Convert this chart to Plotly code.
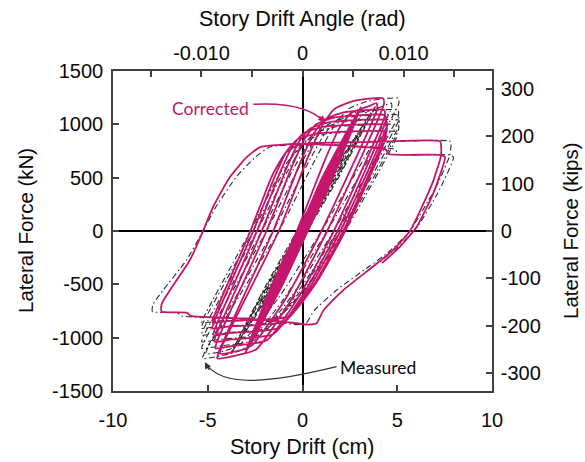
import plotly.graph_objects as go

# ---------------- data (drift in cm, force in kN) ----------------
corrected_elastic = [(0, 0),
    (1.06, 400), (0.05, 0), (-1.06, -400), (-0.05, 0),
    (1.85, 700), (0.08, 0), (-1.85, -700), (-0.08, 0),
    (1.22, 500), (2.51, 950), (1.42, 500), (0.10, 0), (-1.22, -500), (-2.51, -950), (-1.42, -500), (-0.10, 0),
    (1.17, 500), (2.91, 1100), (1.47, 500), (0.15, 0), (-1.17, -500), (-2.91, -1100), (-1.47, -500), (-0.15, 0),
    (1.12, 500), (3.07, 1160), (1.52, 500), (0.20, 0), (-1.12, -500), (-3.03, -1145), (-1.52, -500), (-0.20, 0),
    (1.07, 500), (3.08, 1165), (1.57, 500), (0.25, 0), (-1.07, -500), (-3.04, -1150), (-1.57, -500), (-0.25, 0),
    (1.20, 500), (3.07, 1160), (1.44, 500), (0.12, 0), (-1.20, -500), (-3.04, -1150), (-1.44, -500), (-0.12, 0),
    (1.10, 500), (3.04, 1150), (1.54, 500), (0.22, 0), (-1.10, -500), (-3.02, -1140), (-1.54, -500), (-0.22, 0),
    (1.14, 500), (3.08, 1165), (1.50, 500), (0.18, 0), (-1.14, -500), (-3.04, -1150), (-1.50, -500), (-0.18, 0),
    (1.04, 500), (3.02, 1140), (1.60, 500), (0.28, 0), (-1.04, -500), (-2.99, -1130), (-1.60, -500), (-0.30, 0)]

corrected_cycles = [
    (1.17, 660), (1.93, 960), (2.55, 1104), (3.57, 1176), (3.90, 1200), (3.95, 1150), (1.00, 0),
    (-0.88, -633), (-2.65, -1070), (-3.45, -1127), (-4.35, -1150), (-4.27, -1090), (-1.25, 0),
    (0.27, 685), (1.06, 996), (1.69, 1145), (2.72, 1220), (4.25, 1245), (4.30, 1195), (1.30, 0),
    (-0.64, -657), (-2.45, -1111), (-3.60, -1171), (-4.50, -1195), (-4.42, -1135), (-1.55, 0),
    (-0.16, 624), (0.57, 908), (1.17, 1044), (2.17, 1112), (4.30, 1135), (4.35, 1085), (1.65, 0),
    (-0.16, -605), (-1.88, -1023), (-3.70, -1078), (-4.60, -1100), (-4.52, -1040), (-1.90, 0),
    (-0.57, 598), (0.13, 870), (0.72, 1000), (1.72, 1065), (4.35, 1087), (4.40, 1037), (1.85, 0),
    (0.12, -571), (-1.54, -965), (-3.75, -1017), (-4.65, -1038), (-4.57, -978), (-2.15, 0),
    (-0.88, 572), (-0.20, 832), (0.38, 957), (1.36, 1019), (4.40, 1040), (4.45, 990), (2.00, 0),
    (0.36, -536), (-1.24, -907), (-3.80, -956), (-4.70, -975), (-4.62, -915), (-2.40, 0),
    (-1.19, 547), (-0.53, 795), (0.04, 914), (1.01, 974), (4.40, 994), (4.45, 944), (2.15, 0),
    (0.60, -502), (-0.95, -848), (-3.85, -894), (-4.75, -912), (-4.67, -852), (-2.60, 0),
    (-1.46, 512), (-0.85, 744), (-0.29, 856), (0.67, 911), (4.35, 930), (4.40, 880), (2.25, 0),
    (0.77, -473), (-0.73, -800), (-3.85, -843), (-4.75, -860), (-4.67, -800), (-2.75, 0)]

corrected_large = [
    (-1.60, 520), (-0.90, 730), (-0.30, 800), (0.60, 825), (2.50, 832), (4.40, 840), (7.26, 840),
    (7.32, 780), (7.30, 697), (6.90, 470), (6.55, 322), (5.67, 0), (4.71, -190), (3.74, -330),
    (2.15, -555), (1.10, -745), (0.75, -865), (0.30, -878), (-1.00, -850), (-3.00, -820),
    (-5.90, -795), (-6.10, -765), (-7.43, -756), (-7.45, -700), (-7.39, -666), (-6.99, -553),
    (-5.94, -272), (-5.25, 0), (-4.72, 225), (-3.83, 506), (-2.93, 694), (-2.24, 787),
    (-1.35, 806), (-0.13, 816), (2.00, 800), (4.40, 765), (4.55, 722), (7.35, 712),
    (7.52, 690), (6.90, 353), (6.03, 40), (5.15, -147), (4.20, -300)]

measured_elastic = [(0, 0),
    (1.32, 400), (0.05, 0), (-1.32, -400), (-0.05, 0),
    (2.31, 700), (0.08, 0), (-2.31, -700), (-0.08, 0),
    (1.55, 500), (3.13, 950), (1.75, 500), (0.10, 0), (-1.55, -500), (-3.13, -950), (-1.75, -500), (-0.10, 0),
    (1.50, 500), (3.63, 1100), (1.80, 500), (0.15, 0), (-1.50, -500), (-3.63, -1100), (-1.80, -500), (-0.15, 0),
    (1.45, 500), (3.82, 1160), (1.85, 500), (0.20, 0), (-1.45, -500), (-3.77, -1145), (-1.85, -500), (-0.20, 0),
    (1.40, 500), (3.84, 1165), (1.90, 500), (0.25, 0), (-1.40, -500), (-3.79, -1150), (-1.90, -500), (-0.30, 0)]

measured_cycles = [
    (1.60, 660), (2.55, 960), (3.27, 1104), (4.33, 1176), (4.68, 1200), (4.70, 1150), (1.00, 0),
    (-1.29, -633), (-3.35, -1070), (-4.18, -1127), (-5.10, -1150), (-4.98, -1090), (-1.25, 0),
    (0.72, 685), (1.71, 996), (2.43, 1145), (3.51, 1220), (5.06, 1245), (5.08, 1195), (1.30, 0),
    (-1.07, -657), (-3.17, -1111), (-4.36, -1171), (-5.28, -1195), (-5.16, -1135), (-1.55, 0),
    (0.25, 624), (1.16, 908), (1.85, 1044), (2.89, 1112), (5.04, 1135), (5.06, 1085), (1.65, 0),
    (-0.55, -605), (-2.54, -1023), (-4.40, -1078), (-5.32, -1100), (-5.20, -1040), (-1.90, 0),
    (-0.18, 598), (0.70, 870), (1.37, 1000), (2.41, 1065), (5.06, 1087), (5.07, 1037), (1.85, 0),
    (-0.25, -571), (-2.17, -965), (-4.41, -1017), (-5.32, -1038), (-5.21, -978), (-2.15, 0),
    (-0.51, 572), (0.34, 832), (1.00, 957), (2.02, 1019), (5.08, 1040), (5.09, 990), (2.00, 0),
    (0.01, -536), (-1.83, -907), (-4.42, -956), (-5.33, -975), (-5.21, -915), (-2.40, 0),
    (-0.83, 547), (-0.01, 795), (0.63, 914), (1.64, 974), (5.05, 994), (5.06, 944), (2.15, 0),
    (0.27, -502), (-1.50, -848), (-4.43, -894), (-5.34, -912), (-5.22, -852), (-2.60, 0),
    (-1.13, 512), (-0.37, 744), (0.27, 856), (1.26, 911), (4.95, 930), (4.97, 880), (2.25, 0),
    (0.46, -473), (-1.25, -800), (-4.40, -843), (-5.31, -860), (-5.19, -800), (-2.75, 0)]

measured_large = [
    (-1.26, 520), (-0.43, 730), (0.22, 800), (1.14, 825), (3.04, 832), (4.95, 840), (7.81, 840),
    (7.83, 780), (7.75, 697), (7.21, 470), (6.76, 322), (5.67, 0), (4.59, -190), (3.53, -330),
    (1.79, -555), (0.62, -745), (0.19, -865), (-0.27, -878), (-1.55, -850), (-3.53, -820),
    (-6.42, -795), (-6.60, -765), (-7.92, -756), (-7.91, -700), (-7.82, -666), (-7.35, -553),
    (-6.12, -272), (-5.25, 0), (-4.57, 225), (-3.50, 506), (-2.48, 694), (-1.73, 787),
    (-0.83, 806), (0.40, 816), (2.52, 800), (4.90, 765), (5.02, 722), (7.81, 712),
    (7.97, 690), (7.13, 353), (6.06, 40), (5.05, -147), (4.01, -300)]

drift_ticks_cm = [-10, -5, 0, 5, 10]
drift_tick_text = ["-10", "-5", "0", "5", "10"]
force_ticks_kN = [-1500, -1000, -500, 0, 500, 1000, 1500]
force_tick_text_kN = ["-1500", "-1000", "-500", "0", "500", "1000", "1500"]
force_ticks_kips = [-300, -200, -100, 0, 100, 200, 300]
force_tick_text_kips = ["-300", "-200", "-100", "0", "100", "200", "300"]
angle_ticks_rad = [-0.015, -0.010, -0.005, 0, 0.005, 0.010, 0.015]
angle_tick_text = ["", "-0.010", "", "0", "", "0.010", ""]

MAGENTA = "#C5156C"
AXC = "#404040"
TXT = "#0a0a0a"
FONT = "Liberation Sans, Arial, sans-serif"

corr = corrected_elastic + corrected_cycles + corrected_large
meas = measured_elastic + measured_cycles + measured_large

fig = go.Figure()
fig.add_trace(go.Scatter(x=[p[0] for p in meas], y=[p[1] for p in meas], mode="lines",
                         line=dict(color="#2a2a2a", width=1.1, dash="6px,3px,1.5px,3px",
                                   shape="spline", smoothing=0.5),
                         showlegend=False, hoverinfo="skip"))
fig.add_trace(go.Scatter(x=[p[0] for p in corr], y=[p[1] for p in corr], mode="lines",
                         line=dict(color=MAGENTA, width=1.8, shape="spline", smoothing=0.5),
                         showlegend=False, hoverinfo="skip"))
fig.add_trace(go.Scatter(x=[None], y=[None], xaxis="x2", yaxis="y2", mode="lines",
                         showlegend=False, hoverinfo="skip"))

tickfont = dict(family=FONT, size=20, color=TXT)
common = dict(showgrid=False, ticks="inside", ticklen=6, tickwidth=1.5, tickcolor=AXC,
              showline=True, linecolor=AXC, linewidth=1.5, tickfont=tickfont)

fig.update_layout(
    width=585, height=462, margin=dict(l=113, r=93, t=71, b=71),
    paper_bgcolor="white", plot_bgcolor="white",
    xaxis=dict(range=[-10, 10], tickvals=drift_ticks_cm, ticktext=drift_tick_text,
               zeroline=True, zerolinecolor="black", zerolinewidth=1.5, ticklabelstandoff=10, **common),
    yaxis=dict(range=[-1500, 1500], tickvals=force_ticks_kN, ticktext=force_tick_text_kN,
               zeroline=True, zerolinecolor="black", zerolinewidth=1.5, ticklabelstandoff=4, **common),
    xaxis2=dict(range=[-0.01876, 0.01876], tickvals=angle_ticks_rad, ticktext=angle_tick_text,
                overlaying="x", side="top", anchor="y2", zeroline=False, ticklabelstandoff=1, **common),
    yaxis2=dict(range=[-337.2, 337.2], tickvals=force_ticks_kips, ticktext=force_tick_text_kips,
                overlaying="y", side="right", anchor="x2", zeroline=False, ticklabelstandoff=3, **common),
)

fig.add_annotation(text="Story Drift (cm)", xref="paper", yref="paper", x=0.5, y=0,
                   yshift=-56, showarrow=False, font=dict(family=FONT, size=21.5, color=TXT),
                   xanchor="center", yanchor="middle")
fig.add_annotation(text="Story Drift Angle (rad)", xref="paper", yref="paper", x=0.5, y=1,
                   yshift=52, showarrow=False, font=dict(family=FONT, size=21.5, color=TXT),
                   xanchor="center", yanchor="middle")
fig.add_annotation(text="Lateral Force (kN)", xref="paper", yref="paper", x=0, y=0.5,
                   xshift=-88, showarrow=False, font=dict(family=FONT, size=20.5, color=TXT),
                   textangle=-90, xanchor="center", yanchor="middle")
fig.add_annotation(text="Lateral Force (kips)", xref="paper", yref="paper", x=1, y=0.5,
                   xshift=78, showarrow=False, font=dict(family=FONT, size=20.5, color=TXT),
                   textangle=-90, xanchor="center", yanchor="middle")

# callouts
fig.add_annotation(text="Corrected", x=-4.88, y=1153, xref="x", yref="y", showarrow=False,
                   font=dict(family="Lato, Open Sans, sans-serif", size=17.5, color=MAGENTA))
fig.add_shape(type="path", xref="x", yref="y", path="M -2.60,1188 Q 0.20,1215 1.19,1015",
              line=dict(color=MAGENTA, width=1.4))
fig.add_annotation(text="", x=1.19, y=1015, xref="x", yref="y", showarrow=True, ax=-7, ay=-8,
                   arrowhead=2, arrowsize=1, arrowwidth=1.4, arrowcolor=MAGENTA, standoff=0)

fig.add_annotation(text="Measured", x=4.01, y=-1284, xref="x", yref="y", showarrow=False,
                   font=dict(family="Lato, Open Sans, sans-serif", size=17.5, color=TXT))
fig.add_shape(type="path", xref="x", yref="y",
              path="M 1.80,-1272 C -1.72,-1425 -4.25,-1472 -5.12,-1240",
              line=dict(color="#333333", width=1.2))
fig.add_annotation(text="", x=-5.15, y=-1230, xref="x", yref="y", showarrow=True, ax=5, ay=9,
                   arrowhead=2, arrowsize=1, arrowwidth=1.3, arrowcolor="#333333", standoff=0)

fig.write_html("out.html")
